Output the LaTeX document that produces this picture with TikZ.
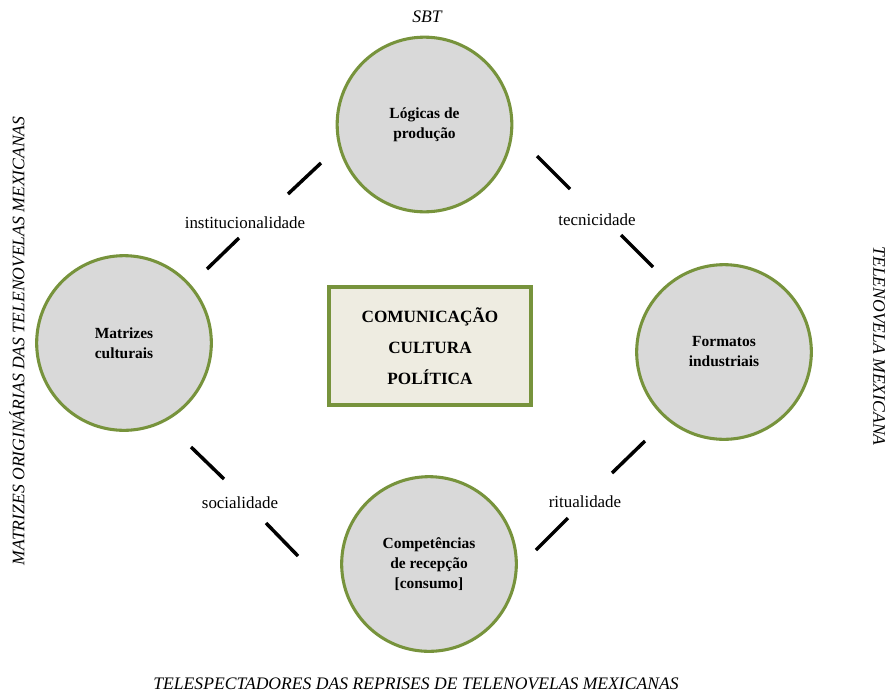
\documentclass[tikz,border=0pt]{standalone}
\usepackage{fontspec}
\setmainfont{Liberation Serif}
\definecolor{olive}{HTML}{77933C}
\definecolor{cfill}{HTML}{D9D9D9}
\definecolor{bfill}{HTML}{EEECE1}
\begin{document}
\begin{tikzpicture}[x=0.75pt,y=-0.75pt,
  circ/.style={circle,draw=olive,fill=cfill,line width=2.3pt,minimum size=131pt,inner sep=0pt,
    align=center,font=\fontsize{11.6}{15}\selectfont\bfseries},
  centerbox/.style={draw=olive,fill=bfill,line width=3pt,minimum width=151.5pt,minimum height=88.5pt,
    align=center,inner sep=0pt,font=\fontsize{12.9}{23.25}\selectfont\bfseries},
  seg/.style={line width=2.6pt,black},
  lab/.style={font=\fontsize{12.7}{15}\selectfont,inner sep=1pt},
  outer/.style={font=\fontsize{13.2}{15}\selectfont\itshape,inner sep=0pt}]
\useasboundingbox (0,0) rectangle (888,693);
\fill[white] (0,0) rectangle (888,693);
% circles
\node[circ] (top) at (424.5,124.5) {Lógicas de\\produção};
\node[circ] (left) at (124,343) {Matrizes\\culturais};
\node[circ] (right) at (724,352) {Formatos\\industriais};
\node[circ] (bottom) at (429,564) {Competências\\de recepção\\{[}consumo{]}};
% center box
\node[centerbox] (box) at (430,346) {COMUNICAÇÃO\\CULTURA\\POLÍTICA};
% segment end points
\coordinate (a1) at (321,163); \coordinate (a2) at (288,194);
\coordinate (a3) at (239,238); \coordinate (a4) at (207,269);
\coordinate (b1) at (537,156); \coordinate (b2) at (570,189);
\coordinate (b3) at (621,235); \coordinate (b4) at (653,267);
\coordinate (c1) at (191,447); \coordinate (c2) at (224,479);
\coordinate (c3) at (266,523); \coordinate (c4) at (298,556);
\coordinate (d1) at (645,441); \coordinate (d2) at (612,473);
\coordinate (d3) at (568,518); \coordinate (d4) at (536,550);
\draw[seg] (a1) -- (a2); \draw[seg] (a3) -- (a4);
\draw[seg] (b1) -- (b2); \draw[seg] (b3) -- (b4);
\draw[seg] (c1) -- (c2); \draw[seg] (c3) -- (c4);
\draw[seg] (d1) -- (d2); \draw[seg] (d3) -- (d4);
% labels
\node[lab] (l1) at (245,223) {institucionalidade};
\node[lab] (l2) at (597,220) {tecnicidade};
\node[lab] (l3) at (240,503) {socialidade};
\node[lab] (l4) at (585,502) {ritualidade};
% outer texts
\node[outer] (sbt) at (427,17) {SBT};
\node[outer] (bot) at (416,684) {TELESPECTADORES DAS REPRISES DE TELENOVELAS MEXICANAS};
\node[outer,rotate=90] (lft) at (17,341) {MATRIZES ORIGINÁRIAS DAS TELENOVELAS MEXICANAS};
\node[outer,rotate=-90] (rgt) at (879,346) {TELENOVELA MEXICANA};
\end{tikzpicture}
\end{document}
